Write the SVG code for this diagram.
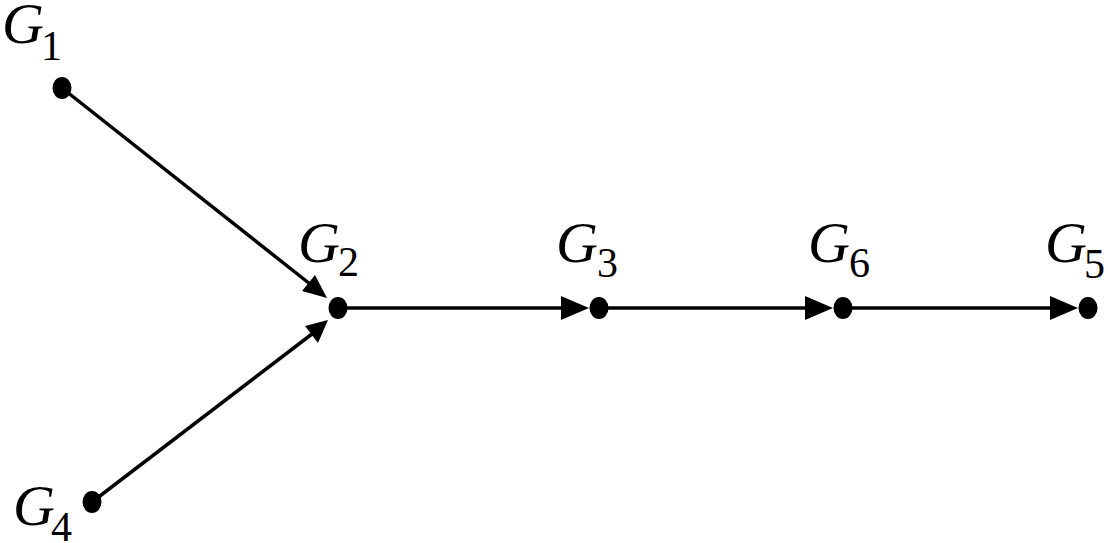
<svg xmlns="http://www.w3.org/2000/svg" width="1108" height="543" viewBox="0 0 1108 543">
<defs>
<style>
.edge{stroke:#000;stroke-width:3.5;fill:none}
.dot{fill:#000}
.lbl{font-family:"Liberation Serif",serif;fill:#000}
.g{font-style:italic;font-size:58px}
.sub{font-size:42px}
</style>
</defs>
<rect width="1108" height="543" fill="#fff"/>
<g id="connectors">
<path class="edge" d="M62,88 L310,284"/>
<polygon points="327,298 302,291 315,275" fill="#000"/>
<path class="edge" d="M92,502 L312,334"/>
<polygon points="328,320 318,343 305,326" fill="#000"/>
<path class="edge" d="M338,308 L562,308"/>
<polygon points="589,308 561,296 561,320" fill="#000"/>
<path class="edge" d="M599,308 L806,308"/>
<polygon points="833,308 805,296 805,320" fill="#000"/>
<path class="edge" d="M843,308 L1050,308"/>
<polygon points="1078,308 1050,296 1050,320" fill="#000"/>
</g>
<g id="G1"><ellipse class="dot" cx="62" cy="88" rx="9.5" ry="11"/><text class="lbl"><tspan class="g" x="2" y="43">G</tspan><tspan class="sub" x="41" y="60">1</tspan></text></g>
<g id="G2"><ellipse class="dot" cx="338" cy="308" rx="9.5" ry="11"/><text class="lbl"><tspan class="g" x="298" y="262">G</tspan><tspan class="sub" x="338" y="276">2</tspan></text></g>
<g id="G3"><ellipse class="dot" cx="599" cy="308" rx="9.5" ry="11"/><text class="lbl"><tspan class="g" x="556" y="262">G</tspan><tspan class="sub" x="597" y="277">3</tspan></text></g>
<g id="G6"><ellipse class="dot" cx="843" cy="308" rx="9.5" ry="11"/><text class="lbl"><tspan class="g" x="808" y="262">G</tspan><tspan class="sub" x="849" y="277">6</tspan></text></g>
<g id="G5"><ellipse class="dot" cx="1088" cy="308" rx="9.5" ry="11"/><text class="lbl"><tspan class="g" x="1045" y="262">G</tspan><tspan class="sub" x="1084" y="278">5</tspan></text></g>
<g id="G4"><ellipse class="dot" cx="92" cy="502" rx="9.5" ry="11"/><text class="lbl"><tspan class="g" x="13" y="525">G</tspan><tspan class="sub" x="51" y="541">4</tspan></text></g>
</svg>
